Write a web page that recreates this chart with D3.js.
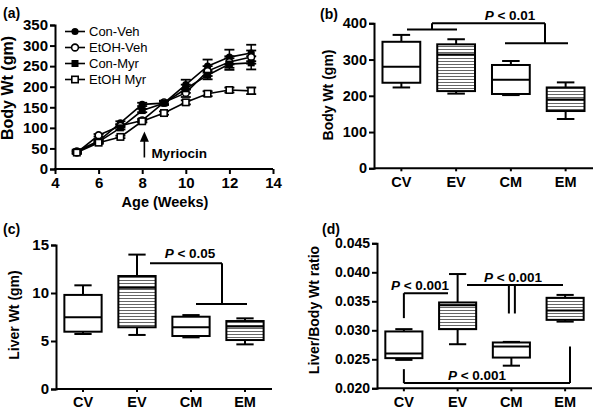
<!DOCTYPE html>
<html><head><meta charset="utf-8">
<script src="https://cdn.jsdelivr.net/npm/d3@7"></script>
<style>
body{margin:0;background:#fff;}
svg{display:block;font-family:Arial,"Liberation Sans",sans-serif;}
</style></head>
<body><svg id="c" width="596" height="409"></svg>
<script>
// ---------- data ----------
const weeks = [5,6,7,8,9,10,11,12,13];
const seriesNames = ["Con-Veh","EtOH-Veh","Con-Myr","EtOH Myr"];
const conVeh  = [44, 68, 112, 157, 160, 205, 250, 272, 282];
const etohVeh = [40, 82, 105, 118, 162, 185, 238, 260, 272];
const conMyr  = [42, 66, 100, 142, 160, 195, 228, 255, 258];
const etohMyr = [40, 64, 78, 116, 136, 162, 183, 192, 190];
const conVehErr  = [3, 3, 4, 4, 4, 12, 16, 18, 20];
const etohVehErr = [3, 3, 4, 4, 4, 10, 12, 14, 16];
const conMyrErr  = [3, 3, 4, 4, 4, 10, 10, 14, 16];
const etohMyrErr = [3, 3, 3, 3, 4, 5, 6, 6, 8];
const weekTicks = [4,6,8,10,12,14];
const bodyTicksA = [0,50,100,150,200,250,300,350];

const groups = ["CV","EV","CM","EM"];
const hatched = [false,true,false,true];
// [whiskerLow, q1, median, q3, whiskerHigh]
const bodyWt  = [[223,236,280,349,368],[206,213,314,342,356],[202,205,244,285,296],[136,158,190,223,237]];
const liverWt = [[5.73,5.97,7.47,9.8,10.8],[5.63,6.43,10.55,11.77,14.0],[5.38,5.52,6.42,7.53,7.7],[4.65,5.1,6.5,7.08,7.36]];
const ratio   = [[0.0249,0.0252,0.0260,0.0298,0.0302],[0.0276,0.0302,0.0343,0.0348,0.0397],[0.0239,0.0253,0.0272,0.0279,0.0280],[0.0315,0.0318,0.0334,0.0356,0.0361]];
const bodyTicksB = [0,100,200,300,400];
const liverTicks = [0,5,10,15];
const ratioTicks = [0.020,0.025,0.030,0.035,0.040,0.045];

const svg = d3.select("#c");
const FONT = 'Arial,"Liberation Sans",sans-serif';

// hatch pattern
const defs = svg.append("defs");
const pat = defs.append("pattern").attr("id","hatch").attr("patternUnits","userSpaceOnUse")
  .attr("width",6).attr("height",3);
pat.append("rect").attr("width",6).attr("height",3).attr("fill","#fff");
pat.append("line").attr("x1",0).attr("x2",6).attr("y1",1.5).attr("y2",1.5).attr("stroke","#666").attr("stroke-width",1);

function styleAxis(g, fs){
  g.selectAll(".domain").attr("stroke","#000").attr("stroke-width",2);
  g.selectAll(".tick line").attr("stroke","#000").attr("stroke-width",2);
  g.selectAll(".tick text").attr("fill","#000").attr("font-size",fs).attr("font-weight","bold").attr("font-family",FONT);
}
function panelLabel(t,x,y){
  svg.append("text").attr("x",x).attr("y",y).text(t).attr("font-size",14).attr("font-weight","bold");
}
function yTitle(t,x,y,fs){
  svg.append("text").attr("transform",`translate(${x},${y}) rotate(-90)`).attr("text-anchor","middle")
    .attr("font-size",fs).attr("font-weight","bold").text(t);
}
function pText(x,y,rest){
  const t = svg.append("text").attr("x",x).attr("y",y).attr("text-anchor","middle")
    .attr("font-size",13.5).attr("font-weight","bold");
  t.append("tspan").attr("font-style","italic").text("P");
  t.append("tspan").text(" < "+rest);
}

// ---------- panel (a) ----------
{
  const x = d3.scaleLinear().domain([4,14]).range([55,273]);
  const y = d3.scaleLinear().domain([0,350]).range([169,25]);
  const gx = svg.append("g").attr("transform","translate(0,169)")
    .call(d3.axisBottom(x).tickValues(weekTicks).tickSize(5).tickPadding(3).tickFormat(d3.format("d")));
  styleAxis(gx,15);
  const gy = svg.append("g").attr("transform","translate(55,0)")
    .call(d3.axisLeft(y).tickValues(bodyTicksA).tickSize(5).tickPadding(2));
  styleAxis(gy,15);
  gx.select(".domain").attr("d","M54,0H273");

  const all = [conVeh,etohVeh,conMyr,etohMyr];
  const errs = [conVehErr,etohVehErr,conMyrErr,etohMyrErr];
  const line = d3.line().x((d,i)=>x(weeks[i])).y(d=>y(d));
  // error bars
  all.forEach((s,k)=>{
    const g = svg.append("g");
    s.forEach((v,i)=>{
      const e = errs[k][i], cx = x(weeks[i]);
      g.append("line").attr("x1",cx).attr("x2",cx).attr("y1",y(v-e)).attr("y2",y(v+e)).attr("stroke","#000").attr("stroke-width",1.5);
      [v-e,v+e].forEach(w=>g.append("line").attr("x1",cx-5).attr("x2",cx+5).attr("y1",y(w)).attr("y2",y(w)).attr("stroke","#000").attr("stroke-width",1.8));
    });
  });
  all.forEach(s=>{
    svg.append("path").datum(s).attr("d",line).attr("fill","none").attr("stroke","#000").attr("stroke-width",1.6);
  });
  function marker(g,k,cx,cy){
    if(k===0) g.append("circle").attr("cx",cx).attr("cy",cy).attr("r",3.6).attr("fill","#000");
    else if(k===1) g.append("circle").attr("cx",cx).attr("cy",cy).attr("r",3.4).attr("fill","#fff").attr("stroke","#000").attr("stroke-width",1.6);
    else if(k===2) g.append("rect").attr("x",cx-3.5).attr("y",cy-3.5).attr("width",7).attr("height",7).attr("fill","#000");
    else g.append("rect").attr("x",cx-3.2).attr("y",cy-3.2).attr("width",6.4).attr("height",6.4).attr("fill","#fff").attr("stroke","#000").attr("stroke-width",1.6);
  }
  all.forEach((s,k)=>{
    const g = svg.append("g");
    s.forEach((v,i)=>marker(g,k,x(weeks[i]),y(v)));
  });
  // legend
  seriesNames.forEach((n,k)=>{
    const ly = 31.5 + k*16;
    const g = svg.append("g");
    g.append("line").attr("x1",65).attr("x2",85).attr("y1",ly).attr("y2",ly).attr("stroke","#000").attr("stroke-width",1.6);
    marker(g,k,75,ly);
    g.append("text").attr("x",89).attr("y",ly+4.5).attr("font-size",13).text(n);
  });
  // Myriocin arrow
  const ax = x(8.1);
  svg.append("line").attr("x1",ax).attr("x2",ax).attr("y1",y(28)).attr("y2",y(70)).attr("stroke","#000").attr("stroke-width",1.6);
  svg.append("path").attr("d",`M${ax},${y(91)}L${ax-4.5},${y(66)}L${ax+4.5},${y(66)}Z`).attr("fill","#000");
  svg.append("text").attr("x",ax+7).attr("y",y(27)).attr("font-size",13.5).attr("font-weight","bold").text("Myriocin");
  svg.append("text").attr("x",165).attr("y",207).attr("text-anchor","middle").attr("font-size",14.5).attr("font-weight","bold").text("Age (Weeks)");
  yTitle("Body Wt (gm)",13,88,16);
  panelLabel("(a)",3,18);
}

// ---------- box panels ----------
function boxPanel(data, xr, yDom, yr, ticks, fmt, fs){
  const x = d3.scaleBand().domain(groups).range(xr);
  const y = d3.scaleLinear().domain(yDom).range(yr);
  const gx = svg.append("g").attr("transform",`translate(0,${yr[0]})`)
    .call(d3.axisBottom(x).tickSize(3).tickPadding(5));
  styleAxis(gx,14.5);
  gx.select(".domain").attr("d",`M${xr[0]},0H${xr[1]}`);
  const gy = svg.append("g").attr("transform",`translate(${xr[0]},0)`)
    .call(d3.axisLeft(y).tickValues(ticks).tickSize(5).tickPadding(2).tickFormat(fmt));
  styleAxis(gy,fs);
  const bw = x.bandwidth()*0.69, cw = x.bandwidth()*0.32;
  data.forEach((d,i)=>{
    const cx = x(groups[i]) + x.bandwidth()/2;
    const g = svg.append("g");
    g.append("line").attr("x1",cx).attr("x2",cx).attr("y1",y(d[0])).attr("y2",y(d[4])).attr("stroke","#000").attr("stroke-width",2);
    [d[0],d[4]].forEach(v=>g.append("line").attr("x1",cx-cw/2).attr("x2",cx+cw/2).attr("y1",y(v)).attr("y2",y(v)).attr("stroke","#000").attr("stroke-width",2));
    g.append("rect").attr("x",cx-bw/2).attr("y",y(d[3])).attr("width",bw).attr("height",y(d[1])-y(d[3]))
      .attr("fill",hatched[i]?"url(#hatch)":"#fff").attr("stroke","#000").attr("stroke-width",2);
    g.append("line").attr("x1",cx-bw/2).attr("x2",cx+bw/2).attr("y1",y(d[2])).attr("y2",y(d[2])).attr("stroke","#000").attr("stroke-width",2);
  });
  return {x,y,cx:i=>x(groups[i])+x.bandwidth()/2};
}
function seg(x1,y1,x2,y2){
  svg.append("line").attr("x1",x1).attr("y1",y1).attr("x2",x2).attr("y2",y2).attr("stroke","#000").attr("stroke-width",2);
}

// (b)
{
  const p = boxPanel(bodyWt,[374,593],[0,400],[168.3,23.3],bodyTicksB,d3.format("d"),14.5);
  const {y} = p;
  seg(407, y(383), 457, y(383));
  seg(505, y(345), 568, y(345));
  seg(432, y(400), 545, y(400));
  seg(432, y(400), 432, y(383));
  seg(545, y(400), 545, y(345));
  pText(510, 20, "0.01");
  yTitle("Body Wt (gm)",333,95,14);
  panelLabel("(b)",320,19);
}
// (c)
{
  const p = boxPanel(liverWt,[56,272],[0,15],[389,245],liverTicks,d3.format("d"),15);
  const {y} = p;
  seg(150, y(13.1), 222, y(13.1));
  seg(222, y(13.1), 222, y(8.85));
  seg(196, y(8.85), 247, y(8.85));
  pText(190, 258, "0.05");
  yTitle("Liver Wt (gm)",19,315,14);
  panelLabel("(c)",3,234);
}
// (d)
{
  const p = boxPanel(ratio,[377,592],[0.020,0.045],[388.3,243.3],ratioTicks,d3.format(".3f"),14);
  const {y,cx} = p;
  seg(cx(0), y(0.0321), cx(0), y(0.0364));
  seg(cx(0), y(0.0364), 448, y(0.0364));
  pText(420, 290, "0.001");
  seg(467, y(0.0378), 563, y(0.0378));
  seg(cx(2)-2.5, y(0.0378), cx(2)-2.5, y(0.0329));
  seg(cx(2)+3.5, y(0.0378), cx(2)+3.5, y(0.0329));
  pText(513, 281.5, "0.001");
  seg(cx(0), y(0.0233), cx(0), y(0.0209));
  seg(cx(0), y(0.0209), 570, y(0.0209));
  seg(570, y(0.0272), 570, y(0.0209));
  pText(477, 380, "0.001");
  yTitle("Liver/Body Wt ratio",319,310,14);
  panelLabel("(d)",322,234);
}
</script></body></html>
